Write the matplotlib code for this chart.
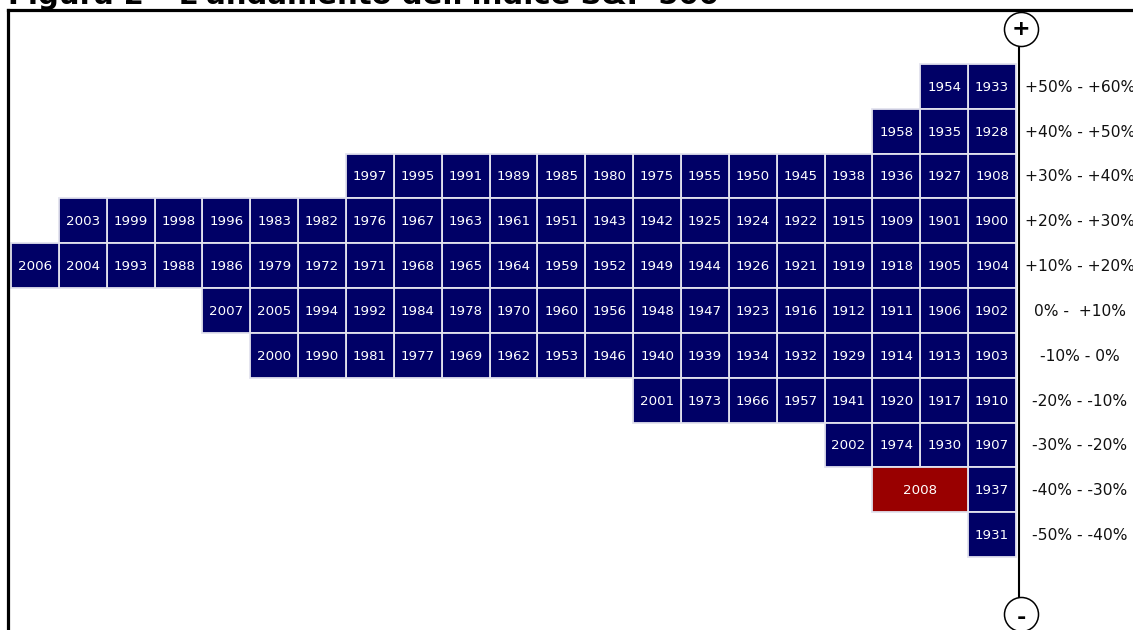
import numpy as np
import matplotlib.pyplot as plt

# years in each return bucket, listed from the right edge towards the left
rows = [
    [1933, 1954],
    [1928, 1935, 1958],
    [1908, 1927, 1936, 1938, 1945, 1950, 1955, 1975, 1980, 1985, 1989, 1991, 1995, 1997],
    [1900, 1901, 1909, 1915, 1922, 1924, 1925, 1942, 1943, 1951, 1961, 1963, 1967, 1976,
     1982, 1983, 1996, 1998, 1999, 2003],
    [1904, 1905, 1918, 1919, 1921, 1926, 1944, 1949, 1952, 1959, 1964, 1965, 1968, 1971,
     1972, 1979, 1986, 1988, 1993, 2004, 2006],
    [1902, 1906, 1911, 1912, 1916, 1923, 1947, 1948, 1956, 1960, 1970, 1978, 1984, 1992,
     1994, 2005, 2007],
    [1903, 1913, 1914, 1929, 1932, 1934, 1939, 1940, 1946, 1953, 1962, 1969, 1977, 1981,
     1990, 2000],
    [1910, 1917, 1920, 1941, 1957, 1966, 1973, 2001],
    [1907, 1930, 1974, 2002],
    [1937, 2008],
    [1931],
]
bucket_labels = ["+50% - +60%", "+40% - +50%", "+30% - +40%", "+20% - +30%", "+10% - +20%",
                 "0% -  +10%", "-10% - 0%", "-20% - -10%", "-30% - -20%", "-40% - -30%",
                 "-50% - -40%"]
highlight = 2008
title = "Figura 2 \u2013 L'andamento dell'indice S&P 500"

ncols = 21
W, H = 1133, 630
cw = 1005 / ncols      # cell width in px
rh = 493 / len(rows)   # cell height in px
x0, y0 = 11, 64        # top-left of the grid in px

fig = plt.figure(figsize=(W / 100, H / 100), dpi=100)
ax = fig.add_axes([0, 0, 1, 1])
# column/row units mapped onto the figure
ax.set_xlim(-x0 / cw, (W - x0) / cw)
ax.set_ylim((H - y0) / rh, -y0 / rh)
ax.axis('off')

def px_x(p):
    return (p - x0) / cw

def px_y(p):
    return (p - y0) / rh

navy = '#000066'
red = '#990000'
edge = '#e2e2ee'

for r, years in enumerate(rows):
    right = ncols
    for yr in years:
        w = 2 if yr == highlight else 1
        left = right - w
        ax.bar(left + w / 2, 1, width=w, bottom=r, color=red if yr == highlight else navy,
               edgecolor=edge, linewidth=1.3, align='center')
        ax.text(left + w / 2, r + 0.52, str(yr), color='white', fontsize=9.6,
                ha='center', va='center')
        right = left
    ax.text(px_x(1080), r + 0.52, bucket_labels[r], fontsize=11.2, ha='center', va='center',
            color='#111111')

# frame, clipped by the figure on the right and bottom
ax.plot([px_x(8), px_x(W + 5)], [px_y(10), px_y(10)], color='black', lw=2.3, clip_on=False,
        solid_capstyle='projecting')
ax.plot([px_x(8), px_x(8)], [px_y(10), px_y(H + 5)], color='black', lw=2.3, clip_on=False,
        solid_capstyle='projecting')

# vertical scale with + / - ends
ax.plot([px_x(1019), px_x(1019)], [px_y(46), px_y(598)], color='black', lw=1.5)
for cy in [29, 614]:
    ax.plot(px_x(1021), px_y(cy), marker='o', markersize=24.5, markerfacecolor='white',
            markeredgecolor='black', markeredgewidth=1.1)
ax.text(px_x(1021), px_y(29), '+', fontsize=16, fontweight='bold', ha='center', va='center')
ax.text(px_x(1021), px_y(618), '-', fontsize=16, fontweight='bold', ha='center', va='center')

fig.text(8 / W, 1 - 4 / H, title, fontsize=21, fontweight='bold', ha='left', va='baseline')

fig.savefig('out.png', dpi=100)
